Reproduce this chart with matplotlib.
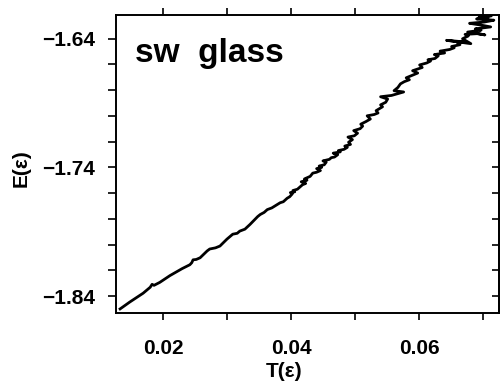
import matplotlib
matplotlib.use("Agg")
import matplotlib.pyplot as plt

plt.rcParams['font.family'] = ['Liberation Sans', 'DejaVu Sans']
plt.rcParams['font.weight'] = 'bold'

# temperature T (eps) and energy E (eps)
T = [0.0133, 0.0148, 0.0169, 0.0180, 0.0183, 0.0186, 0.0195, 0.0211, 0.0222, 0.0230,
     0.0242, 0.0245, 0.0247, 0.0252, 0.0258, 0.0269, 0.0273, 0.0282, 0.0289, 0.0300,
     0.0309, 0.0316, 0.0320, 0.0328, 0.0336, 0.0348, 0.0352, 0.0358, 0.0363, 0.0370,
     0.0378, 0.0383, 0.0388, 0.0394, 0.0398,
     0.0402, 0.0399, 0.0406, 0.0403, 0.0410, 0.0414, 0.0418, 0.0423, 0.0416, 0.0425,
     0.0421, 0.0430, 0.0434, 0.0440, 0.0446, 0.0440, 0.0448, 0.0444, 0.0452, 0.0455,
     0.0450, 0.0460, 0.0463, 0.0468, 0.0473, 0.0466, 0.0477, 0.0474, 0.0483, 0.0488,
     0.0484, 0.0493, 0.0490, 0.0496, 0.0489, 0.0499, 0.0504, 0.0498, 0.0508, 0.0512,
     0.0509, 0.0517, 0.0524, 0.0519, 0.0530, 0.0536, 0.0533, 0.0543, 0.0540, 0.0548,
     0.0551, 0.0540, 0.0557, 0.0576, 0.0561, 0.0567, 0.0571, 0.0577, 0.0585, 0.0580,
     0.0598, 0.0590, 0.0605, 0.0601, 0.0612, 0.0618, 0.0614, 0.0625, 0.0630, 0.0624,
     0.0640, 0.0633, 0.0648, 0.0655, 0.0651, 0.0664, 0.0660, 0.0668, 0.0643, 0.0681,
     0.0668, 0.0677, 0.0672, 0.0692, 0.0703, 0.0676, 0.0697, 0.0688, 0.0712, 0.0696,
     0.0679, 0.0702, 0.0717, 0.0690, 0.0708, 0.0694, 0.0713, 0.0700]
E = [-1.8499, -1.8446, -1.8377, -1.8331, -1.8308, -1.8316, -1.8293, -1.8240, -1.8209, -1.8186,
     -1.8156, -1.8140, -1.8118, -1.8115, -1.8102, -1.8049, -1.8034, -1.8025, -1.8011, -1.7957,
     -1.7919, -1.7912, -1.7895, -1.7880, -1.7843, -1.7782, -1.7766, -1.7750, -1.7728, -1.7715,
     -1.7690, -1.7675, -1.7667, -1.7640, -1.7628,
     -1.7606, -1.7596, -1.7590, -1.7580, -1.7570, -1.7553, -1.7535, -1.7525, -1.7512, -1.7500,
     -1.7490, -1.7470, -1.7445, -1.7438, -1.7425, -1.7410, -1.7400, -1.7390, -1.7380, -1.7360,
     -1.7350, -1.7338, -1.7325, -1.7320, -1.7302, -1.7290, -1.7280, -1.7270, -1.7260, -1.7245,
     -1.7235, -1.7222, -1.7205, -1.7185, -1.7165, -1.7155, -1.7135, -1.7115, -1.7100, -1.7080,
     -1.7065, -1.7045, -1.7025, -1.7000, -1.6990, -1.6978, -1.6960, -1.6930, -1.6915, -1.6895,
     -1.6870, -1.6852, -1.6842, -1.6815, -1.6805, -1.6780, -1.6752, -1.6735, -1.6720, -1.6705,
     -1.6668, -1.6650, -1.6625, -1.6605, -1.6590, -1.6575, -1.6565, -1.6555, -1.6535, -1.6525,
     -1.6512, -1.6498, -1.6485, -1.6472, -1.6462, -1.6448, -1.6432, -1.6425, -1.6414, -1.6440,
     -1.6402, -1.6380, -1.6368, -1.6362, -1.6372, -1.6350, -1.6335, -1.6325, -1.6310, -1.6295,
     -1.6282, -1.6272, -1.6258, -1.6248, -1.6238, -1.6230, -1.6224, -1.6217]

x_ticks = [0.02, 0.03, 0.04, 0.05, 0.06, 0.07]
x_labels = ['0.02', '', '0.04', '', '0.06', '']
y_ticks = [-1.84, -1.82, -1.80, -1.78, -1.76, -1.74, -1.72, -1.70, -1.68, -1.66, -1.64]
y_labels = ['\u22121.84', '', '', '', '', '\u22121.74', '', '', '', '', '\u22121.64']

fig = plt.figure(figsize=(5, 3.83), dpi=100)
ax = fig.add_axes([0.232, 0.183, 0.766, 0.778])

ax.plot(T, E, color='black', lw=2.0, solid_joinstyle='round')

ax.set_xlim(0.01266, 0.0725)
ax.set_ylim(-1.853, -1.6217)

ax.set_xticks(x_ticks)
ax.set_xticklabels(x_labels)
ax.set_yticks(y_ticks)
ax.set_yticklabels(y_labels)
ax.tick_params(axis='x', direction='out', length=5, width=1.2, top=True,
               labelsize=15, pad=14)
ax.tick_params(axis='y', direction='out', length=6, width=1.2,
               labelsize=15, pad=9)

# right side ticks point inward
sec = ax.secondary_yaxis('right')
sec.set_yticks(y_ticks)
sec.tick_params(direction='in', length=5, width=1.2, labelright=False)
sec.spines['right'].set_linewidth(1.4)

for s in ax.spines.values():
    s.set_linewidth(1.4)

ax.set_xlabel('T(\u03b5)', fontsize=15, fontweight='bold')
ax.xaxis.set_label_coords(0.44, -0.195)
ax.xaxis.label.set_va('center')
ax.set_ylabel('E(\u03b5)', fontsize=15, fontweight='bold')
ax.yaxis.set_label_coords(-0.248, 0.487)
ax.yaxis.label.set_va('center')

ax.text(0.05, 0.842, 'sw  glass', transform=ax.transAxes, fontsize=24,
        fontweight='bold', va='baseline', ha='left')

fig.savefig('out.png', dpi=100)
